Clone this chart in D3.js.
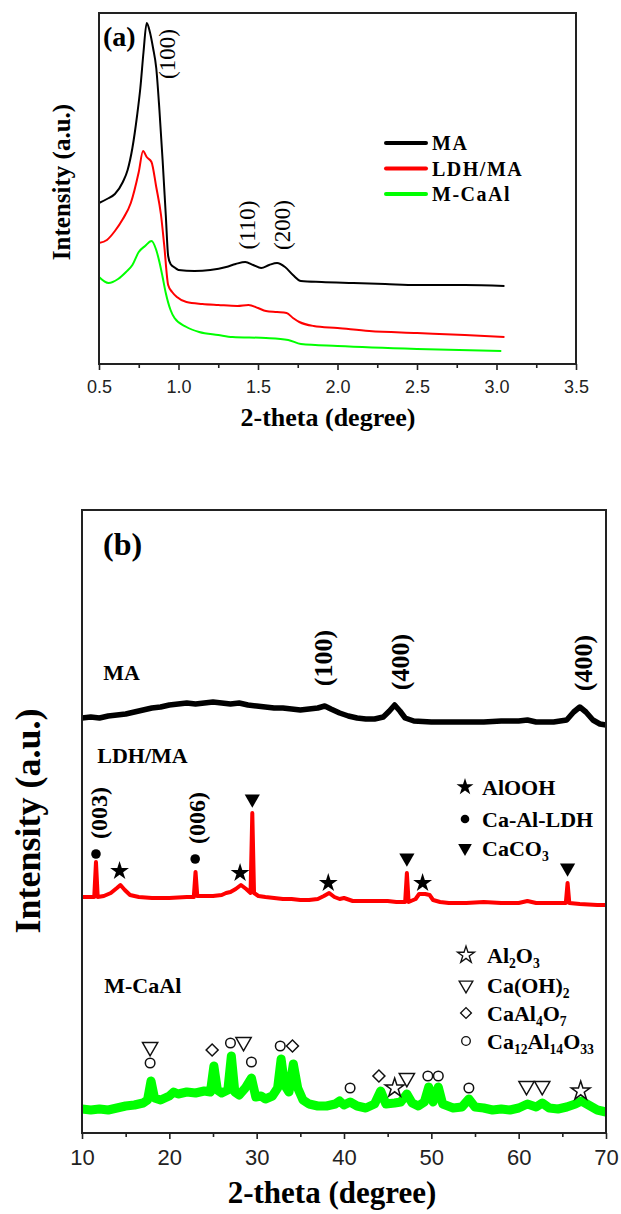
<!DOCTYPE html>
<html>
<head>
<meta charset="utf-8">
<script src="https://cdn.jsdelivr.net/npm/d3@7"></script>
<style>
  body { margin: 0; background: #fff; }
  svg { display: block; }
</style>
</head>
<body>
<svg id="chart" width="621" height="1214"></svg>
<script>
// ---- panel (a): low-angle XRD, [2-theta, intensity a.u.]
const maA = [[0.5,161],[0.55,165],[0.6,170],[0.65,182],[0.68,194],[0.71,216],[0.74,249],[0.76,276],[0.78,312],[0.8,341],[0.82,332],[0.84,316],[0.86,296],[0.88,254],[0.9,204],[0.92,149],[0.935,108],[0.95,100],[0.98,96],[1.0,94],[1.1,93],[1.2,94],[1.3,97],[1.36,100],[1.42,102],[1.47,99],[1.52,96],[1.57,99],[1.62,101],[1.67,97],[1.72,89],[1.77,83],[1.9,82],[2.1,81],[2.3,80],[2.5,79],[2.8,79],[3.05,78]];
const ldhA = [[0.5,121],[0.55,124],[0.6,133],[0.65,145],[0.7,161],[0.75,192],[0.777,213],[0.8,207],[0.83,202],[0.86,177],[0.89,149],[0.91,119],[0.935,79],[0.96,72],[0.99,67],[1.05,62],[1.15,60],[1.25,59],[1.37,58],[1.44,59],[1.5,56],[1.55,53],[1.62,52],[1.68,51],[1.72,46],[1.76,42],[1.85,38],[2.0,36],[2.2,33],[2.5,31],[2.8,29],[3.05,27]];
const mcaA = [[0.5,87],[0.56,81],[0.62,85],[0.67,92],[0.71,99],[0.75,112],[0.79,118],[0.83,123],[0.86,114],[0.88,102],[0.9,87],[0.92,71],[0.95,54],[0.975,46],[1.05,37],[1.13,32],[1.25,29],[1.34,27],[1.55,26],[1.69,24],[1.77,20],[2.0,18],[2.5,15],[3.03,13]];
const seriesA = ["MA", "LDH/MA", "M-CaAl"];
const peakLabelsA = [["(100)",0.93,310],["(110)",1.437,139],["(200)",1.651,139]];
const ticksA = [0.5,1.0,1.5,2.0,2.5,3.0,3.5];
const minorA = [0.75,1.25,1.75,2.25,2.75,3.25];

// ---- panel (b): wide-angle XRD
const maB = [[10,415],[11,416],[12,415],[13,417],[14,418],[15,419],[16,421],[17,423],[18,425],[19,426],[20,428],[21,429],[22,430],[23,429],[24,430],[25,431],[26,430],[27,429],[28,430],[29,428],[30,427],[31,426],[32,425],[33,425],[34,424],[35,423],[36,424],[37,425],[37.8,427],[38.5,424],[39.5,420],[40.5,417],[41.5,415],[42.5,414],[43.5,414],[44.5,416],[45.2,422],[45.8,428],[46.4,422],[47,415],[48,412],[50,411],[52,411],[54,411],[56,411],[58,412],[60,412],[61,413],[62,411],[64,411],[65.5,413],[66.3,421],[67,426],[67.7,421],[68.5,413],[69.3,409],[70,408]];
const ldhB = [[10,236],[11,236],[11.4,236],[11.6,271],[11.8,236],[12.5,237],[13.3,240],[14,245],[14.4,248],[14.9,243],[15.5,238],[16.5,236],[18,235],[20,235],[22,236],[22.8,236],[23,261],[23.2,237],[24,237],[25,237],[26,238],[26.5,240],[27,241],[27.6,244],[28.2,248],[28.8,244],[29.3,240],[29.5,320],[29.7,240],[30.2,237],[31,236],[32,235],[33,234],[34,234],[35,233],[36,233],[37,234],[37.7,237],[38.3,240],[38.9,236],[39.5,234],[40,235],[41,232],[43,232],[45,232],[46,231],[47,231],[47.2,260],[47.4,231],[48.2,234],[48.6,239],[49.3,239],[49.8,238],[50.2,233],[51,231],[52,230],[54,230],[56,231],[58,230],[60,230],[61,232],[62,230],[64,230],[65.4,230],[65.6,250],[65.8,230],[67,229],[69,228],[70,228]];
const mcaB = [[10,24],[11,23],[12,24],[13,23],[14,25],[15,27],[16,28],[17,30],[17.5,33],[17.9,52],[18.3,35],[19,33],[20,37],[20.5,41],[21,39],[22,41],[23,40],[24,42],[24.7,41],[25.1,67],[25.5,43],[26,40],[26.7,43],[27.1,77],[27.5,41],[28,38],[28.7,45],[29.4,55],[29.9,36],[30.5,37],[31,34],[31.8,37],[32.4,45],[32.8,74],[33.2,48],[33.7,41],[34.2,69],[34.7,45],[35.3,33],[36,29],[37,27],[38,27],[39,29],[39.5,32],[40,28],[40.7,31],[41.5,27],[42.5,25],[43.5,29],[44.2,42],[44.8,29],[45.8,30],[46.5,31],[47.2,39],[47.8,30],[48.5,27],[49.2,31],[49.7,46],[50.2,31],[50.8,46],[51.3,29],[52.5,25],[53.5,26],[54.3,34],[55,26],[56,25],[57,23],[58,24],[59,23],[60,25],[61,29],[62,26],[62.7,30],[63.5,25],[64.5,24],[65.5,26],[66.5,29],[67.2,32],[68,28],[69,23],[70,21]];
const sampleLabelsB = [["MA",12.44,453],["LDH/MA",11.75,370],["M-CaAl",12.55,140]];
const peakLabelsB = [["(100)",37.63,475],["(400)",46.45,471],["(400)",67.37,470],["(003)",11.98,320],["(006)",23.2,315]];
const ldhMarks = [["circle",11.6,279],["star",14.3,262],["circle",22.96,274],["star",28.1,260],["triangle",29.5,334],["star",38.2,250],["triangle",47.2,275],["star",49.0,250],["triangle",65.6,265]];
const mcaMarks = [["triangle",17.8,86],["circle",17.8,70],["diamond",24.9,83],["circle",27.0,90],["triangle",28.5,91],["circle",29.4,71],["circle",32.7,87],["diamond",34.1,87],["circle",40.7,45],["diamond",44.0,57],["star",45.8,45],["triangle",47.2,55],["circle",49.6,57],["circle",50.8,57],["circle",54.3,45],["triangle",60.9,47],["triangle",62.7,47],["star",67.1,42]];
const phasesFilled = [["star","AlOOH"],["circle","Ca-Al-LDH"],["triangle","CaCO3"]];
const phasesOpen = [["star","Al2O3"],["triangle","Ca(OH)2"],["diamond","CaAl4O7"],["circle","Ca12Al14O33"]];
const ticksB = [10,20,30,40,50,60,70];
const minorB = [15,25,35,45,55,65];

const colors = ["#000000", "#ff0000", "#00ff00"];
const serif = "'Liberation Serif','Times New Roman',serif";
const sans = "'Liberation Sans',Arial,sans-serif";

const svg = d3.select("#chart");

// scales
const xA = d3.scaleLinear().domain([0.5, 3.5]).range([99, 576]);
const yA = d3.scaleLinear().domain([0, 351]).range([364, 13]);
const xB = d3.scaleLinear().domain([10, 70]).range([82, 606]);
const yB = d3.scaleLinear().domain([0, 623]).range([1133, 510]);

function bottomAxis(x, y0, major, minor, fmt, fontSize, labelY) {
  const gMinor = svg.append("g").attr("transform", `translate(0,${y0})`)
    .call(d3.axisBottom(x).tickValues(minor).tickSize(4).tickFormat(""));
  const gMajor = svg.append("g").attr("transform", `translate(0,${y0})`)
    .call(d3.axisBottom(x).tickValues(major).tickSize(6).tickFormat(fmt));
  [gMinor, gMajor].forEach(g => {
    g.select(".domain").remove();
    g.selectAll("line").attr("stroke", "#222").attr("stroke-width", 1.6);
  });
  gMajor.selectAll("text")
    .attr("y", labelY).attr("dy", null)
    .attr("font-family", sans).attr("font-size", fontSize).attr("fill", "#222");
}

function vtext(x, y, str, size, weight) {
  svg.append("text")
    .attr("transform", `translate(${x},${y}) rotate(-90)`)
    .attr("text-anchor", "middle")
    .attr("dominant-baseline", "central")
    .attr("font-family", serif).attr("font-size", size).attr("font-weight", weight)
    .text(str);
}

// digits become subscripts
function chemText(sel, str, size) {
  let sub = false;
  const shift = size * 0.22;
  str.split(/(\d+)/).filter(s => s).forEach(part => {
    const isNum = /^\d+$/.test(part);
    const t = sel.append("tspan").text(part);
    if (isNum) {
      t.attr("font-size", size * 0.62);
      if (!sub) t.attr("dy", shift);
      sub = true;
    } else {
      if (sub) t.attr("dy", -shift);
      sub = false;
    }
  });
}

function symbolPath(shape) {
  if (shape === "star") return d3.symbol(d3.symbolStar, 110)();
  if (shape === "circle") return d3.symbol(d3.symbolCircle, 72)();
  if (shape === "triangle") return d3.symbol(d3.symbolTriangle, 100)();
  return d3.symbol(d3.symbolSquare, 72)();
}
function symbolRot(shape) {
  if (shape === "triangle") return 180;
  if (shape === "diamond") return 45;
  return 0;
}

// ================= panel (a)
const lineA = d3.line().x(d => xA(d[0])).y(d => yA(d[1])).curve(d3.curveMonotoneX);
[maA, ldhA, mcaA].forEach((s, i) => {
  svg.append("path").datum(s).attr("d", lineA)
    .attr("fill", "none").attr("stroke", colors[i]).attr("stroke-width", 2)
    .attr("stroke-linejoin", "round");
});
svg.append("rect").attr("x", 99).attr("y", 13).attr("width", 477).attr("height", 351)
  .attr("fill", "none").attr("stroke", "#222").attr("stroke-width", 2);
bottomAxis(xA, 364, ticksA, minorA, d3.format(".1f"), 18, 29);

svg.append("text").attr("x", 103).attr("y", 46)
  .attr("font-family", serif).attr("font-size", 28).attr("font-weight", "bold").text("(a)");
peakLabelsA.forEach(p => vtext(xA(p[1]), yA(p[2]), p[0], 23, "normal"));

seriesA.forEach((name, i) => {
  const y = 143 + i * 25.5;
  svg.append("line").attr("x1", 386).attr("x2", 426).attr("y1", y).attr("y2", y)
    .attr("stroke", colors[i]).attr("stroke-width", 4).attr("stroke-linecap", "round");
  svg.append("text").attr("x", 432).attr("y", y + 7)
    .attr("font-family", serif).attr("font-size", 20).attr("font-weight", "bold")
    .attr("letter-spacing", 1.5).text(name);
});

svg.append("text").attr("x", 328).attr("y", 426).attr("text-anchor", "middle")
  .attr("font-family", serif).attr("font-size", 26).attr("font-weight", "bold")
  .text("2-theta (degree)");
svg.append("text").attr("transform", "translate(70,182) rotate(-90)").attr("text-anchor", "middle")
  .attr("font-family", serif).attr("font-size", 25).attr("font-weight", "bold")
  .text("Intensity (a.u.)");

// ================= panel (b)
const lineB = d3.line().x(d => xB(d[0])).y(d => yB(d[1]));
[[maB, 5.5], [ldhB, 4], [mcaB, 9]].forEach((s, i) => {
  svg.append("path").datum(s[0]).attr("d", lineB)
    .attr("fill", "none").attr("stroke", colors[i]).attr("stroke-width", s[1])
    .attr("stroke-linejoin", "round");
});
svg.append("rect").attr("x", 82).attr("y", 510).attr("width", 524).attr("height", 623)
  .attr("fill", "none").attr("stroke", "#222").attr("stroke-width", 2);
bottomAxis(xB, 1133, ticksB, minorB, d3.format("d"), 22, 32);

svg.append("text").attr("x", 103).attr("y", 555)
  .attr("font-family", serif).attr("font-size", 32).attr("font-weight", "bold").text("(b)");
sampleLabelsB.forEach(s => {
  svg.append("text").attr("x", xB(s[1])).attr("y", yB(s[2]))
    .attr("font-family", serif).attr("font-size", 22).attr("font-weight", "bold").text(s[0]);
});
peakLabelsB.forEach(p => vtext(xB(p[1]), yB(p[2]), p[0], p[0] === "(003)" || p[0] === "(006)" ? 24 : 26, "bold"));

ldhMarks.forEach(m => {
  svg.append("path").attr("d", symbolPath(m[0]))
    .attr("transform", `translate(${xB(m[1])},${yB(m[2])}) rotate(${symbolRot(m[0])})`)
    .attr("fill", "#000");
});
mcaMarks.forEach(m => {
  svg.append("path").attr("d", symbolPath(m[0]))
    .attr("transform", `translate(${xB(m[1])},${yB(m[2])}) rotate(${symbolRot(m[0])})`)
    .attr("fill", "#fff").attr("stroke", "#111").attr("stroke-width", 1.5);
});

// phase legends
const filledY = [787, 819, 848];
phasesFilled.forEach((p, i) => {
  svg.append("path").attr("d", symbolPath(p[0]))
    .attr("transform", `translate(465,${filledY[i]}) rotate(${symbolRot(p[0])}) scale(0.9)`)
    .attr("fill", "#000");
  const t = svg.append("text").attr("x", 482).attr("y", filledY[i] + 8)
    .attr("font-family", serif).attr("font-size", 22).attr("font-weight", "bold");
  chemText(t, p[1], 22);
});
const openY = [955, 985, 1013, 1041];
phasesOpen.forEach((p, i) => {
  svg.append("path").attr("d", symbolPath(p[0]))
    .attr("transform", `translate(466,${openY[i]}) rotate(${symbolRot(p[0])}) scale(0.9)`)
    .attr("fill", "#fff").attr("stroke", "#111").attr("stroke-width", 1.5);
  const t = svg.append("text").attr("x", 487).attr("y", openY[i] + 8)
    .attr("font-family", serif).attr("font-size", 22).attr("font-weight", "bold");
  chemText(t, p[1], 22);
});

svg.append("text").attr("x", 332).attr("y", 1203).attr("text-anchor", "middle")
  .attr("font-family", serif).attr("font-size", 31).attr("font-weight", "bold")
  .text("2-theta (degree)");
svg.append("text").attr("transform", "translate(40,821) rotate(-90)").attr("text-anchor", "middle")
  .attr("font-family", serif).attr("font-size", 36).attr("font-weight", "bold")
  .text("Intensity (a.u.)");
</script>
</body>
</html>
